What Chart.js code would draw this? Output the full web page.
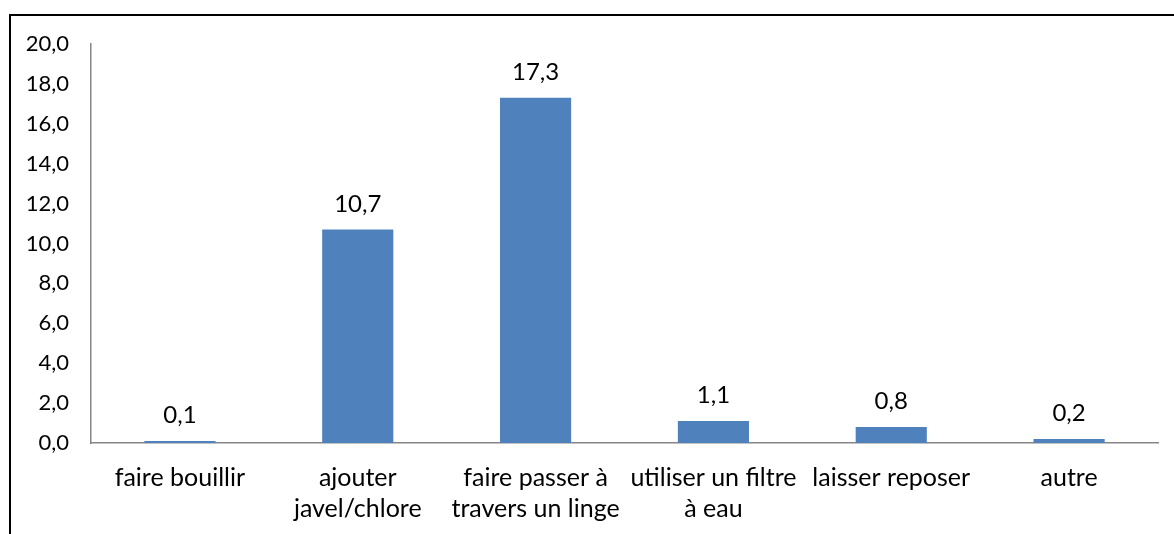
<!DOCTYPE html>
<html>
<head>
<meta charset="utf-8">
<script src="https://cdn.jsdelivr.net/npm/chart.js@4.4.0/dist/chart.umd.min.js"></script>
<style>
  body { margin: 0; background: #fff; overflow: hidden; }
  #wrap { position: relative; width: 1174px; height: 534px; }
  #cadre { position: absolute; left: 9px; top: 14px; width: 1300px; height: 700px;
           border: 2px solid #000; pointer-events: none; }
</style>
</head>
<body>
<div id="wrap">
  <canvas id="lienzo" width="1174" height="534"></canvas>
  <div id="cadre"></div>
</div>
<script>
const categorias = [
    'faire bouillir',
    ['ajouter', 'javel/chlore'],
    ['faire passer à', 'travers un linge'],
    ['utiliser un filtre', 'à eau'],
    'laisser reposer',
    'autre'
]
const valores = [0.1, 10.7, 17.3, 1.1, 0.8, 0.2]
const ticks_y = [0, 2, 4, 6, 8, 10, 12, 14, 16, 18, 20]

const fuente = 'Lato, "Open Sans", sans-serif'
const coma = v => v.toFixed(1).replace('.', ',')

// etiquetas encima de cada barra
const etiquetas = {
    id: 'etiquetas',
    afterDatasetsDraw(chart) {
        const ctx = chart.ctx
        const meta = chart.getDatasetMeta(0)
        ctx.save()
        ctx.font = '24px ' + fuente
        ctx.fillStyle = '#000'
        ctx.textAlign = 'center'
        ctx.textBaseline = 'alphabetic'
        meta.data.forEach((barra, i) => {
            ctx.fillText(coma(valores[i]), barra.x, barra.y - 18)
        })
        ctx.restore()
    }
}

new Chart(document.getElementById('lienzo'), {
    type: 'bar',
    data: {
        labels: categorias,
        datasets: [{
            data: valores,
            backgroundColor: '#4F81BD',
            borderWidth: 0,
            categoryPercentage: 1,
            barPercentage: 0.4
        }]
    },
    options: {
        responsive: false,
        animation: false,
        layout: { padding: { top: 44, right: 16, bottom: 0, left: 0 } },
        plugins: {
            legend: { display: false },
            tooltip: { enabled: false }
        },
        scales: {
            x: {
                grid: { display: false, drawTicks: false },
                border: { display: true, color: '#868686', width: 1.5 },
                ticks: {
                    color: '#000',
                    padding: 19,
                    maxRotation: 0,
                    autoSkip: false,
                    font: { family: fuente, size: 25, lineHeight: 1.25 }
                },
                afterFit: s => { s.height = 91 }
            },
            y: {
                min: 0,
                max: 20,
                afterBuildTicks: s => { s.ticks = ticks_y.map(v => ({ value: v })) },
                grid: { display: false, drawTicks: false },
                border: { display: true, color: '#868686', width: 1.5 },
                ticks: {
                    color: '#000',
                    padding: 22,
                    font: { family: fuente, size: 22 },
                    callback: v => coma(v)
                },
                afterFit: s => { s.width = 91 }
            }
        }
    },
    plugins: [etiquetas]
})
</script>
</body>
</html>
